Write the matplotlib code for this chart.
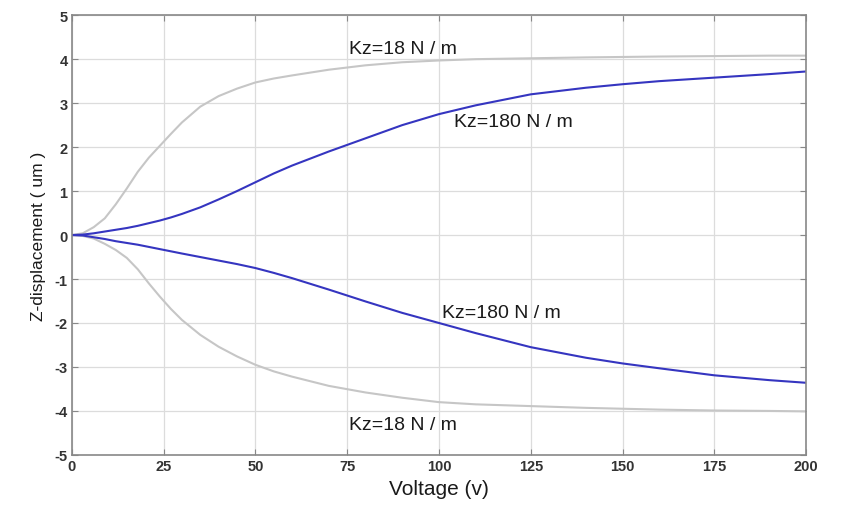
import matplotlib
matplotlib.use("Agg")
import matplotlib.pyplot as plt

plt.rcParams['font.family'] = ['Liberation Sans', 'DejaVu Sans']
plt.rcParams['axes.unicode_minus'] = False

# Voltage samples (v) and read-off displacements (um)
volt = [0, 3, 6, 9, 12, 15, 18, 21, 24, 27, 30, 35, 40, 45, 50, 55, 60,
        70, 80, 90, 100, 110, 125, 140, 150, 160, 175, 190, 200]
up_18 = [0, 0.04, 0.18, 0.38, 0.7, 1.06, 1.44, 1.76, 2.03, 2.3, 2.56, 2.92, 3.16,
         3.33, 3.47, 3.56, 3.63, 3.76, 3.86, 3.93, 3.97, 4.0, 4.02, 4.04, 4.05,
         4.06, 4.07, 4.08, 4.08]
up_180 = [0, 0.01, 0.04, 0.08, 0.12, 0.16, 0.21, 0.27, 0.33, 0.4, 0.48, 0.63, 0.81,
          1.0, 1.2, 1.4, 1.58, 1.9, 2.2, 2.5, 2.75, 2.95, 3.2, 3.35, 3.43, 3.5,
          3.58, 3.66, 3.72]
dn_180 = [0, -0.01, -0.05, -0.09, -0.14, -0.18, -0.22, -0.27, -0.32, -0.37, -0.42,
          -0.5, -0.58, -0.66, -0.75, -0.86, -0.98, -1.24, -1.51, -1.77, -2.0, -2.23,
          -2.55, -2.79, -2.92, -3.03, -3.19, -3.3, -3.36]
dn_18 = [0, -0.02, -0.08, -0.2, -0.34, -0.52, -0.78, -1.1, -1.4, -1.68, -1.93, -2.27,
         -2.54, -2.76, -2.95, -3.1, -3.22, -3.43, -3.58, -3.7, -3.8, -3.85, -3.89,
         -3.93, -3.95, -3.97, -3.99, -4.0, -4.01]

labels = [
    ('Kz=18 N / m', 75.5, 4.24),
    ('Kz=180 N / m', 104, 2.58),
    ('Kz=180 N / m', 100.7, -1.77),
    ('Kz=18 N / m', 75.5, -4.3),
]

fig = plt.figure(figsize=(8.54, 5.06), dpi=100)
ax = fig.add_axes([0.084, 0.099, 0.86, 0.869])

gray = '#c6c6c6'
blue = '#3535c0'
ax.plot(volt, up_18, color=gray, lw=1.5)
ax.plot(volt, dn_18, color=gray, lw=1.5)
ax.plot(volt, up_180, color=blue, lw=1.5)
ax.plot(volt, dn_180, color=blue, lw=1.5)

for txt, x, y in labels:
    ax.text(x, y, txt, fontsize=14, ha='left', va='center', color='#1a1a1a')

ax.set_xlim(0, 200)
ax.set_ylim(-5, 5)
ax.set_xticks(range(0, 201, 25))
ax.set_yticks(range(-5, 6))
ax.grid(True, color='#dcdcdc', lw=0.9)
ax.tick_params(direction='in', top=True, right=True, length=4, color='#888888',
               labelsize=10.5, labelcolor='#333333', pad=3)
for lab in ax.get_xticklabels() + ax.get_yticklabels():
    lab.set_fontweight('bold')
for s in ax.spines.values():
    s.set_color('#888888')
    s.set_linewidth(1.2)

ax.set_xlabel('Voltage (v)', fontsize=15, color='#1a1a1a', labelpad=4)
ax.set_ylabel('Z-displacement ( um )', fontsize=12.5, color='#1a1a1a', labelpad=6)

fig.savefig('out.png', dpi=100)
